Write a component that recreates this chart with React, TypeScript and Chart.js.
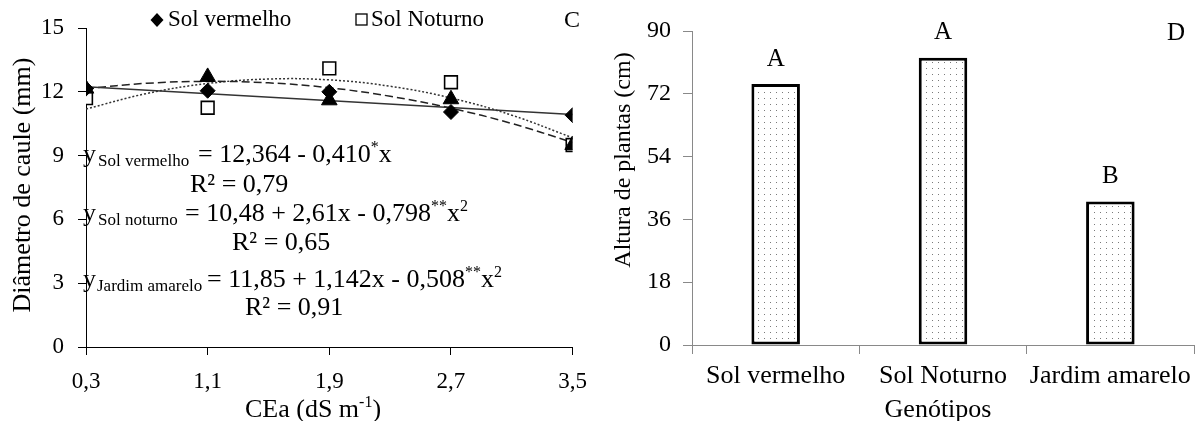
import React, { useEffect, useRef } from 'react';
import { Chart, registerables } from 'chart.js';

Chart.register(...registerables);

const FONT = "'Liberation Serif', 'Times New Roman', serif";

// ---------- Panel C data ----------
const CEA = [0.3, 1.1, 1.9, 2.7, 3.5];
const SOL_VERMELHO = [12.15, 12.05, 12.0, 11.05, 10.9];
const SOL_NOTURNO = [11.7, 11.25, 13.1, 12.45, 9.5];
const JARDIM_AMARELO = [12.15, 12.7, 11.6, 11.65, 9.5];

// fitted curves
const CEA_FIT = [0.3, 0.7, 1.1, 1.5, 1.9, 2.3, 2.7, 3.1, 3.5];
const SOL_NOTURNO_FIT = [11.19, 11.92, 12.39, 12.6, 12.56, 12.26, 11.71, 10.9, 9.84];
const JARDIM_AMARELO_FIT = [12.15, 12.4, 12.49, 12.42, 12.19, 11.79, 11.23, 10.51, 9.62];
const CEA_LIN = [0.3, 3.5];
const SOL_VERMELHO_FIT = [12.24, 10.93];

// ---------- Panel D data ----------
const GENOTIPOS = ['Sol vermelho', 'Sol Noturno', 'Jardim amarelo'];
const ALTURA = [74.8, 82.3, 41.1];
const LETRAS = ['A', 'A', 'B'];

const pts = (xs: number[], ys: number[]) => xs.map((x, i) => ({ x, y: ys[i] }));

function drawRuns(ctx: CanvasRenderingContext2D, x: number, base: number, runs: [string, number, number][]) {
  for (const [t, s, dy] of runs) {
    ctx.font = `${s}px ${FONT}`;
    ctx.fillText(t, x, base + dy);
    x += ctx.measureText(t).width;
  }
  return x;
}

const panelCText = {
  id: 'panelCText',
  afterDraw(chart: any) {
    const ctx: CanvasRenderingContext2D = chart.ctx;
    ctx.save();
    ctx.fillStyle = '#000';
    ctx.strokeStyle = '#000';
    // legend
    ctx.textBaseline = 'middle';
    ctx.textAlign = 'left';
    ctx.beginPath();
    ctx.moveTo(157, 13); ctx.lineTo(163.5, 20); ctx.lineTo(157, 27); ctx.lineTo(150.5, 20); ctx.closePath();
    ctx.fill();
    ctx.font = `23px ${FONT}`;
    ctx.fillText('Sol vermelho', 168, 20);
    ctx.lineWidth = 1.3;
    ctx.strokeRect(356, 14, 11, 11);
    ctx.fillText('Sol Noturno', 371, 20);
    ctx.textAlign = 'center';
    ctx.font = `24px ${FONT}`;
    ctx.fillText('C', 572, 21);

    // y title
    ctx.save();
    ctx.translate(23, 185);
    ctx.rotate(-Math.PI / 2);
    ctx.font = `26px ${FONT}`;
    ctx.textAlign = 'center';
    ctx.textBaseline = 'middle';
    ctx.fillText('Diâmetro de caule (mm)', 0, 0);
    ctx.restore();

    // x title with superscript
    ctx.textAlign = 'left';
    ctx.textBaseline = 'alphabetic';
    const xr: [string, number, number][] = [['CEa (dS m', 26, 0], ['-1', 16, -10], [')', 26, 0]];
    let w = 0;
    for (const [t, s] of xr) { ctx.font = `${s}px ${FONT}`; w += ctx.measureText(t).width; }
    drawRuns(ctx, 313 - w / 2, 417, xr);

    // equations
    drawRuns(ctx, 83, 162, [['y', 26, 0]]);
    drawRuns(ctx, 98, 166, [['Sol vermelho', 17, 0]]);
    drawRuns(ctx, 198, 162, [['= 12,364 - 0,410', 26, 0], ['*', 16, -10], ['x', 26, 0]]);
    drawRuns(ctx, 190, 192, [['R² = 0,79', 26, 0]]);

    drawRuns(ctx, 83, 221, [['y', 26, 0]]);
    drawRuns(ctx, 98, 225, [['Sol noturno', 17, 0]]);
    drawRuns(ctx, 185, 221, [['= 10,48 + 2,61x - 0,798', 26, 0], ['**', 16, -10], ['x', 26, 0], ['2', 16, -10]]);
    drawRuns(ctx, 232, 250, [['R² = 0,65', 26, 0]]);

    drawRuns(ctx, 83, 287, [['y', 26, 0]]);
    drawRuns(ctx, 97, 291, [['Jardim amarelo', 17, 0]]);
    drawRuns(ctx, 207, 287, [['= 11,85 + 1,142x - 0,508', 26, 0], ['**', 16, -10], ['x', 26, 0], ['2', 16, -10]]);
    drawRuns(ctx, 245, 315, [['R² = 0,91', 26, 0]]);
    ctx.restore();
  },
};

const panelDText = {
  id: 'panelDText',
  afterDraw(chart: any) {
    const ctx: CanvasRenderingContext2D = chart.ctx;
    ctx.save();
    ctx.fillStyle = '#000';
    ctx.textAlign = 'center';
    ctx.textBaseline = 'middle';
    ctx.font = `25px ${FONT}`;
    const meta = chart.getDatasetMeta(0);
    meta.data.forEach((el: any, i: number) => {
      ctx.fillText(LETRAS[i], el.x, el.y - 25);
    });
    ctx.fillText('D', 576, 33);

    ctx.save();
    ctx.translate(24, 160);
    ctx.rotate(-Math.PI / 2);
    ctx.font = `24px ${FONT}`;
    ctx.fillText('Altura de plantas (cm)', 0, 0);
    ctx.restore();

    ctx.font = `26px ${FONT}`;
    ctx.fillText('Genótipos', 338, 410);
    ctx.restore();
  },
};

function makeDots(): CanvasPattern | string {
  const c = document.createElement('canvas');
  c.width = 6;
  c.height = 6;
  const g = c.getContext('2d');
  if (!g) return '#fff';
  g.fillStyle = '#fff';
  g.fillRect(0, 0, 6, 6);
  g.fillStyle = '#7a7a7a';
  g.fillRect(2, 2, 1, 1);
  const p = g.createPattern(c, 'repeat');
  return p || '#fff';
}

export default function App() {
  const leftRef = useRef<HTMLCanvasElement>(null);
  const rightRef = useRef<HTMLCanvasElement>(null);

  useEffect(() => {
    if (!leftRef.current || !rightRef.current) return;
    const tickFont = { family: FONT, size: 23 };

    const left = new Chart(leftRef.current, {
      type: 'line',
      data: {
        datasets: [
          {
            label: 'Sol vermelho',
            data: pts(CEA, SOL_VERMELHO),
            showLine: false,
            pointStyle: 'rectRot',
            pointRadius: 7.5,
            backgroundColor: '#000',
            borderColor: '#000',
            borderWidth: 1,
          },
          {
            label: 'Jardim amarelo',
            data: pts(CEA, JARDIM_AMARELO),
            showLine: false,
            pointStyle: 'triangle',
            pointRadius: 9,
            backgroundColor: '#000',
            borderColor: '#000',
            borderWidth: 1,
          },
          {
            label: 'Sol Noturno',
            data: pts(CEA, SOL_NOTURNO),
            showLine: false,
            pointStyle: 'rect',
            pointRadius: 9,
            backgroundColor: '#fff',
            borderColor: '#000',
            borderWidth: 1.6,
          },
          {
            label: 'Sol vermelho (ajuste)',
            data: pts(CEA_LIN, SOL_VERMELHO_FIT),
            pointRadius: 0,
            borderColor: '#333',
            borderWidth: 1.5,
            fill: false,
          },
          {
            label: 'Jardim amarelo (ajuste)',
            data: pts(CEA_FIT, JARDIM_AMARELO_FIT),
            pointRadius: 0,
            borderColor: '#222',
            borderWidth: 1.5,
            borderDash: [8, 4],
            tension: 0.4,
            fill: false,
          },
          {
            label: 'Sol Noturno (ajuste)',
            data: pts(CEA_FIT, SOL_NOTURNO_FIT),
            pointRadius: 0,
            borderColor: '#333',
            borderWidth: 1.5,
            borderDash: [2, 2],
            tension: 0.4,
            fill: false,
          },
        ],
      },
      options: {
        animation: false,
        responsive: false,
        maintainAspectRatio: false,
        layout: { padding: { top: 28, right: 25, left: 0, bottom: 0 } },
        plugins: { legend: { display: false }, tooltip: { enabled: false } },
        scales: {
          x: {
            type: 'linear',
            min: 0.3,
            max: 3.5,
            afterBuildTicks: (s: any) => { s.ticks = CEA.map((v) => ({ value: v })); },
            afterFit: (s: any) => { s.height = 74; },
            ticks: {
              font: tickFont,
              color: '#000',
              padding: 13,
              maxRotation: 0,
              autoSkip: false,
              callback: (v: any) => Number(v).toFixed(1).replace('.', ','),
            },
            grid: { drawOnChartArea: false, drawTicks: true, tickLength: 8, color: '#000' },
            border: { color: '#000', width: 1 },
          },
          y: {
            min: 0,
            max: 15,
            afterFit: (s: any) => { s.width = 86; },
            ticks: { stepSize: 3, font: tickFont, color: '#000', padding: 14 },
            grid: { drawOnChartArea: false, drawTicks: true, tickLength: 8, color: '#000' },
            border: { color: '#000', width: 1 },
          },
        },
      },
      plugins: [panelCText],
    } as any);

    const right = new Chart(rightRef.current, {
      type: 'bar',
      data: {
        labels: GENOTIPOS,
        datasets: [
          {
            label: 'Altura de plantas',
            data: ALTURA,
            backgroundColor: makeDots() as any,
            borderColor: '#000',
            borderWidth: 3,
            borderSkipped: false,
            barPercentage: 0.29,
            categoryPercentage: 1,
          },
        ],
      },
      options: {
        animation: false,
        responsive: false,
        maintainAspectRatio: false,
        layout: { padding: { top: 31, right: 1, left: 0, bottom: 0 } },
        plugins: { legend: { display: false }, tooltip: { enabled: false } },
        scales: {
          x: {
            afterFit: (s: any) => { s.height = 76; },
            ticks: { font: { family: FONT, size: 26 }, color: '#000', padding: 7, maxRotation: 0, autoSkip: false },
            grid: { offset: true, drawOnChartArea: false, drawTicks: true, tickLength: 9, color: '#898989' },
            border: { color: '#898989', width: 1 },
          },
          y: {
            min: 0,
            max: 90,
            afterFit: (s: any) => { s.width = 92; },
            ticks: { stepSize: 18, font: { family: FONT, size: 24 }, color: '#000', padding: 12 },
            grid: { drawOnChartArea: false, drawTicks: true, tickLength: 9, color: '#898989' },
            border: { color: '#898989', width: 1 },
          },
        },
      },
      plugins: [panelDText],
    } as any);

    return () => {
      left.destroy();
      right.destroy();
    };
  }, []);

  return (
    <div style={{ position: 'absolute', left: 0, top: 0, width: 1198, height: 421, background: '#fff' }}>
      <canvas ref={leftRef} width={600} height={421} style={{ position: 'absolute', left: 0, top: 0 }} />
      <canvas ref={rightRef} width={598} height={421} style={{ position: 'absolute', left: 600, top: 0 }} />
    </div>
  );
}
